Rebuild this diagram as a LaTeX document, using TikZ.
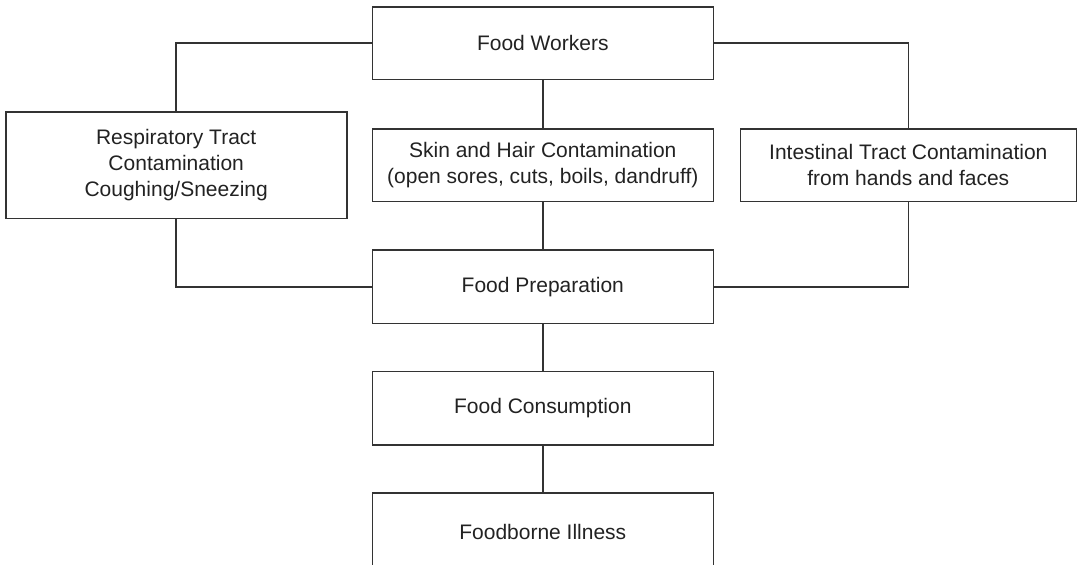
\documentclass[tikz,border=0pt]{standalone}
\usepackage{fontspec}
\setmainfont{Liberation Sans}
\definecolor{linec}{HTML}{333333}
\definecolor{textc}{HTML}{222222}
\begin{document}
\begin{tikzpicture}[x=1pt,y=-1pt,
  box/.style={draw=linec, line width=1.6pt, minimum width=341pt, align=center,
    inner sep=0pt, font=\fontsize{21}{26}\selectfont, text=textc},
  link/.style={draw=linec, line width=1.6pt}]
\useasboundingbox (0,0) rectangle (1077,565);
\clip (0,0) rectangle (1077,565);

% boxes
\node[box, minimum height=72.6pt] (fw) at (542.8,43) {Food Workers};
\node[box, minimum height=106.6pt] (resp) at (176.2,165) {Respiratory Tract\\Contamination\\Coughing/Sneezing};
\node[box, minimum height=72.7pt] (skin) at (542.8,165.3) {Skin and Hair Contamination\\(open sores, cuts, boils, dandruff)};
\node[box, minimum width=336pt, minimum height=72.7pt] (int) at (908.3,165.3) {Intestinal Tract Contamination\\from hands and faces};
\node[box, minimum height=73.3pt] (prep) at (542.8,286.7) {Food Preparation};
\node[box, minimum height=73.3pt] (cons) at (542.8,408.3) {Food Consumption};
\node[box, minimum height=77pt] (ill) at (542.8,531.7) {Foodborne Illness};

% connectors
\draw[link] (fw.west) -| (resp.north);
\draw[link] (fw.east) -| (int.north);
\draw[link] (fw.south) -- (skin.north);
\draw[link] (skin.south) -- (prep.north);
\draw[link] (resp.south) |- (prep.west);
\draw[link] (int.south) |- (prep.east);
\draw[link] (prep.south) -- (cons.north);
\draw[link] (cons.south) -- (ill.north);
\end{tikzpicture}
\end{document}
